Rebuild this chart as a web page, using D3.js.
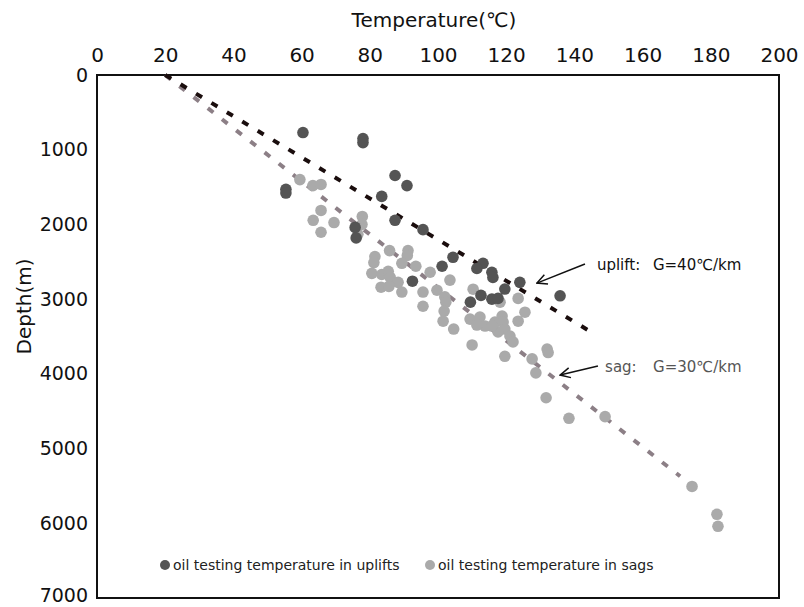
<!DOCTYPE html>
<html><head><meta charset="utf-8">
<script src="https://cdn.jsdelivr.net/npm/d3@7"></script>
<style>body{margin:0;background:#fff}svg{display:block}text{font-family:"DejaVu Sans",sans-serif}</style>
</head><body>
<svg id="c" width="804" height="607"></svg>
<script>
// ---- data ----
const xTicks = [0,20,40,60,80,100,120,140,160,180,200];
const yTicks = [0,1000,2000,3000,4000,5000,6000,7000];
// oil testing temperature in uplifts: [temperature °C, depth m]
const upliftPts = [
 [60.4,770],[78,850],[78,905],[55.4,1530],[55.4,1580],[87.4,1345],[90.9,1480],[83.5,1625],
 [87.4,1945],[75.7,2040],[76,2180],[95.6,2070],[104.4,2440],[101.2,2560],[92.5,2760],
 [113.2,2520],[111.4,2590],[115.8,2640],[116.1,2710],[124,2775],[119.6,2865],[135.8,2955],
 [109.5,3040],[112.6,2950],[115.8,3000],[117.6,2990]
];
// oil testing temperature in sags
const sagPts = [
 [59.5,1400],[63.3,1480],[65.7,1465],[65.7,1813],[63.4,1945],[69.5,1975],[65.7,2105],
 [77.8,1893],[77.7,2000],[76.5,2133],[85.8,2350],[81.5,2430],[81.2,2510],[91.2,2350],
 [91,2415],[89.4,2520],[80.6,2655],[83.5,2670],[85.4,2627],[86,2710],[88.3,2775],
 [83.3,2840],[85.6,2830],[89.4,2905],[93.5,2560],[97.7,2640],[103.5,2745],[95.6,2905],
 [99.7,2880],[102,2970],[102.3,3040],[101.8,3160],[101.5,3295],[104.6,3400],[95.6,3095],
 [110.3,2867],[118.2,3040],[123.5,2990],[125.5,3175],[123.5,3295],[109.4,3267],[112.3,3240],
 [113.8,3360],[116.7,3307],[118.8,3227],[119.1,3307],[119.6,3400],[117.6,3440],[121.1,3493],
 [122,3573],[115.8,3360],[111.4,3347],[110,3613],[119.6,3765],[132,3667],[132.3,3715],
 [127.6,3800],[128.7,3987],[131.7,4320],[138.4,4595],[149,4573],[174.5,5507],[181.8,5880],[182.1,6040]
];
// gradient trend lines
const upliftLine = [[20,0],[146,3470]];
const sagLine = [[20,0],[171,5370]];
const seriesNames = ["oil testing temperature in uplifts","oil testing temperature in sags"];
const annotations = [
 {label:"uplift:", grad:"G=40℃/km", tip:[129,2785], tail:[143.1,2530], text:[146.6,2610], gx:56, color:"#111"},
 {label:"sag:", grad:"G=30℃/km", tip:[135.8,4016], tail:[146.9,3896], text:[149,3976], gx:48, color:"#555"}
];

// ---- chart ----
const svg = d3.select("#c");
const x = d3.scaleLinear().domain([0,200]).range([97,779]);
const y = d3.scaleLinear().domain([0,7000]).range([75,598]);

// frame
svg.append("rect").attr("x",x(0)).attr("y",y(0)).attr("width",x(200)-x(0)).attr("height",y(7000)-y(0))
  .attr("fill","none").attr("stroke","#111").attr("stroke-width",2);

// top axis labels
const xa = svg.append("g").attr("transform",`translate(0,${y(0)-10})`)
  .call(d3.axisTop(x).tickValues(xTicks).tickSize(0).tickFormat(d3.format("d")));
xa.select(".domain").remove();
xa.selectAll("text").attr("font-size",20).attr("fill","#111").attr("font-family","DejaVu Sans");

const ya = svg.append("g").attr("transform",`translate(${x(0)-6},0)`)
  .call(d3.axisLeft(y).tickValues(yTicks).tickSize(0).tickFormat(d3.format("d")));
ya.select(".domain").remove();
ya.selectAll("text").attr("font-size",19).attr("fill","#111").attr("font-family","DejaVu Sans");
ya.selectAll(".tick").filter(d=>d===7000).select("text").attr("dy","0.2em");

svg.append("text").attr("x",(x(0)+x(200))/2 - 4).attr("y",27).attr("text-anchor","middle")
  .attr("font-size",20).attr("fill","#111").text("Temperature(℃)");
svg.append("text").attr("transform",`translate(25,${(y(0)+y(7000))/2 - 30}) rotate(-90)`)
  .attr("text-anchor","middle").attr("dominant-baseline","middle")
  .attr("font-size",20).attr("fill","#111").text("Depth(m)");

// trend lines
const line = d3.line().x(d=>x(d[0])).y(d=>y(d[1]));
svg.append("path").datum(sagLine).attr("d",line).attr("fill","none")
  .attr("stroke","#8c7f86").attr("stroke-width",4).attr("stroke-dasharray","7,11");
svg.append("path").datum(upliftLine).attr("d",line).attr("fill","none")
  .attr("stroke","#1a0d0d").attr("stroke-width",4).attr("stroke-dasharray","7,11");

// points
svg.append("g").selectAll("circle").data(sagPts).join("circle")
  .attr("cx",d=>x(d[0])).attr("cy",d=>y(d[1])).attr("r",5.8).attr("fill","#aaaaaa");
svg.append("g").selectAll("circle").data(upliftPts).join("circle")
  .attr("cx",d=>x(d[0])).attr("cy",d=>y(d[1])).attr("r",5.8).attr("fill","#545454");

// annotations
svg.append("defs").append("marker").attr("id","ah").attr("viewBox","0 0 12 12")
  .attr("refX",11).attr("refY",6).attr("markerWidth",12).attr("markerHeight",12)
  .attr("markerUnits","userSpaceOnUse").attr("orient","auto")
  .append("path").attr("d","M1,1 L11,6 L1,11").attr("fill","none").attr("stroke","#111").attr("stroke-width",1.5);
annotations.forEach(a=>{
  svg.append("line").attr("x1",x(a.tail[0])).attr("y1",y(a.tail[1])).attr("x2",x(a.tip[0])).attr("y2",y(a.tip[1]))
    .attr("stroke","#111").attr("stroke-width",1.5).attr("marker-end","url(#ah)");
  svg.append("text").attr("x",x(a.text[0])).attr("y",y(a.text[1])).attr("font-size",15).attr("fill",a.color).text(a.label);
  svg.append("text").attr("x",x(a.text[0])+a.gx).attr("y",y(a.text[1])).attr("font-size",15).attr("fill",a.color).text(a.grad);
});

// legend
const lg = svg.append("g");
[[165,"#545454",0],[430,"#aaaaaa",1]].forEach(([lx,c,i])=>{
  lg.append("circle").attr("cx",lx).attr("cy",565).attr("r",5).attr("fill",c);
  lg.append("text").attr("x",lx+8).attr("y",570).attr("font-size",14).attr("fill","#222").text(seriesNames[i]);
});
</script>
</body></html>
